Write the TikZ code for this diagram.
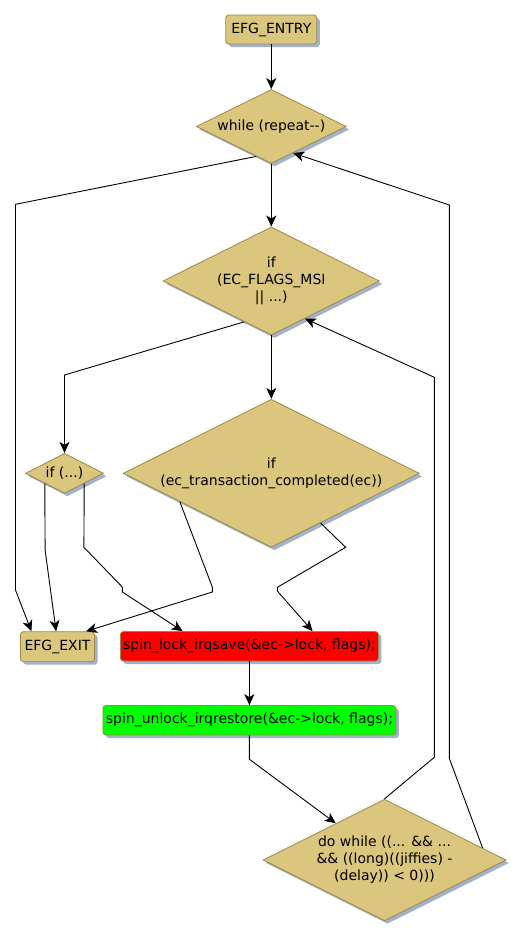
\documentclass[tikz,border=0pt]{standalone}
\usepackage{fontspec}
\setmainfont{DejaVu Sans}
\usetikzlibrary{shapes.geometric,arrows.meta,shadows,calc}
\definecolor{nodetan}{RGB}{218,198,124}
\definecolor{nodeborder}{RGB}{156,136,72}
\definecolor{shadowblue}{RGB}{160,178,206}
\definecolor{lockred}{RGB}{255,0,0}
\definecolor{unlockgreen}{RGB}{0,255,0}
\begin{document}
\begin{tikzpicture}[x=1pt,y=-1pt,
  every node/.style={font=\fontsize{14}{17}\selectfont},
  base/.style={draw=nodeborder, line width=0.8pt,
    drop shadow={shadow xshift=3pt, shadow yshift=-3pt, fill=shadowblue, opacity=1}},
  box/.style={base, rectangle, rounded corners=3pt, inner sep=0pt},
  dec/.style={base, diamond, aspect=2, inner sep=2pt, align=center, fill=nodetan},
  conn/.style={line width=0.9pt, -{Stealth[length=11pt,width=10pt,inset=3pt]}}
]
\useasboundingbox (0,0) rectangle (523,938);

% nodes
\node[box, fill=nodetan, minimum width=91pt, minimum height=29pt] (entry) at (271.3,29.5) {EFG\_ENTRY};
\node[dec, minimum width=150pt, minimum height=74pt] (while) at (271.3,126.5) {while (repeat-{}-)};
\node[dec, minimum width=216pt, minimum height=108pt] (ecflags) at (271.3,281) {if\\(EC\_FLAGS\_MSI\\|| ...)};
\node[dec, minimum width=78pt, minimum height=40pt] (ifdots) at (64.5,473.3) {if (...)};
\node[dec, minimum width=296pt, minimum height=148pt] (ectrans) at (271.3,473.3) {if\\(ec\_transaction\_completed(ec))};
\node[box, fill=nodetan, minimum width=74pt, minimum height=30pt] (exit) at (57.5,646.7) {EFG\_EXIT};
\node[box, fill=lockred, minimum width=258pt, minimum height=29.5pt] (lock) at (249.4,646.3) {spin\_lock\_irqsave(\&ec->lock, flags);};
\node[box, fill=unlockgreen, minimum width=293pt, minimum height=29.5pt] (unlock) at (249.4,720.3) {spin\_unlock\_irqrestore(\&ec->lock, flags);};
\node[dec, minimum width=241pt, minimum height=120pt] (dowhile) at (384.5,860) {do while ((... \&\& ...\\\&\& ((long)((jiffies) -\\(delay)) < 0)))};

% bend points
\coordinate (w1) at (15.5,204.3);
\coordinate (w2) at (15.5,590);
\coordinate (f1) at (64.5,375);
\coordinate (i1) at (45.1,550);
\coordinate (i2) at (83.9,547.3);
\coordinate (i3) at (122.3,587);
\coordinate (i4) at (122.3,592);
\coordinate (t1) at (212.3,587);
\coordinate (t2) at (212.3,592);
\coordinate (t3) at (345.7,547.3);
\coordinate (t4) at (277.3,587.3);
\coordinate (t5) at (277.3,591);
\coordinate (u1) at (249.4,759.3);
\coordinate (d1) at (434.3,757.3);
\coordinate (d2) at (434.3,377.3);
\coordinate (d3) at (449.3,758.3);
\coordinate (d4) at (449.3,205);

% connectors
\draw[conn] (entry.south) -- (while.north);
\draw[conn] (while.south) -- (ecflags.north);
\draw[conn] ($(while.south)!0.2!(while.west)$) -- (w1) -- (w2) -- ([xshift=11.3pt]exit.north west);
\draw[conn] (ecflags.south) -- (ectrans.north);
\draw[conn] ($(ecflags.south)!0.25!(ecflags.west)$) -- (f1) -- (ifdots.north);
\draw[conn] (ifdots.south west) -- (i1) -- ([xshift=36pt]exit.north west);
\draw[conn] (ifdots.south east) -- (i2) -- (i3) -- (i4) -- ([xshift=62.6pt]lock.north west);
\draw[conn] ($(ectrans.west)!0.384!(ectrans.south)$) -- (t1) -- (t2) -- ([xshift=66pt]exit.north west);
\draw[conn] ($(ectrans.south)!0.332!(ectrans.east)$) -- (t3) -- (t4) -- (t5) -- ([xshift=192.6pt]lock.north west);
\draw[conn] (lock.south) -- (unlock.north);
\draw[conn] (unlock.south) -- (u1) -- ($(dowhile.west)!0.6!(dowhile.north)$);
\draw[conn] (dowhile.north) -- (d1) -- (d2) -- ($(ecflags.south)!0.31!(ecflags.east)$);
\draw[conn] ($(dowhile.east)!0.195!(dowhile.north)$) -- (d3) -- (d4) -- ($(while.south)!0.29!(while.east)$);
\end{tikzpicture}
\end{document}
